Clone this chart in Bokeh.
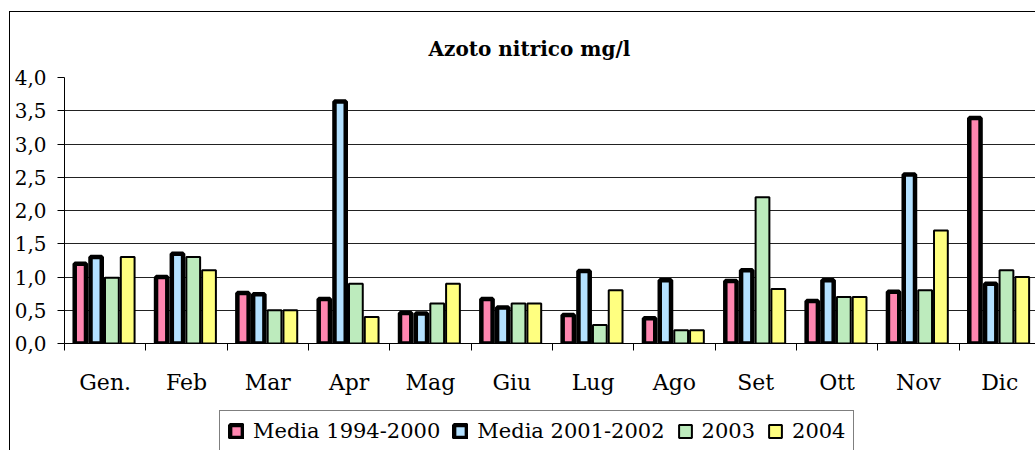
from bokeh.plotting import figure
from bokeh.layouts import column
from bokeh.models import (Range1d, FixedTicker, Legend, LegendItem, Title, ColumnDataSource)
from bokeh.embed import file_html
from bokeh.resources import INLINE

months = ["Gen.", "Feb", "Mar", "Apr", "Mag", "Giu", "Lug", "Ago", "Set", "Ott", "Nov", "Dic"]
series_names = ["Media 1994-2000", "Media 2001-2002", "2003", "2004"]
media_1994_2000 = [1.2, 1.0, 0.76, 0.67, 0.46, 0.67, 0.43, 0.38, 0.94, 0.64, 0.78, 3.39]
media_2001_2002 = [1.3, 1.35, 0.74, 3.64, 0.45, 0.54, 1.09, 0.95, 1.1, 0.95, 2.54, 0.9]
values_2003 = [0.99, 1.3, 0.5, 0.9, 0.6, 0.6, 0.28, 0.2, 2.2, 0.7, 0.8, 1.1]
values_2004 = [1.3, 1.1, 0.5, 0.4, 0.9, 0.6, 0.8, 0.2, 0.82, 0.7, 1.7, 1.0]
y_ticks = [0.0, 0.5, 1.0, 1.5, 2.0, 2.5, 3.0, 3.5, 4.0]

all_series = [media_1994_2000, media_2001_2002, values_2003, values_2004]
fills = ["#FF86B0", "#B4E1FF", "#BDEBBD", "#FFFF80"]
line_widths = [4.5, 4.5, 2, 2]
offsets = [0.195, 0.389, 0.583, 0.777]

FONT = "DejaVu Serif"

p = figure(width=1025, height=393, output_backend="svg", toolbar_location=None,
           x_range=Range1d(0, 11.94), y_range=Range1d(0, 4.0),
           min_border_left=54, min_border_right=0, min_border_top=65, min_border_bottom=62)
p.outline_line_color = None
p.background_fill_color = "white"
p.border_fill_color = "white"

p.title = Title(text="Azoto nitrico mg/l", align="left", offset=364, standoff=33,
                text_font=FONT, text_font_size="20px", text_font_style="bold", text_color="black")

renderers = []
for k, vals in enumerate(all_series):
    src = ColumnDataSource(dict(x=[i + offsets[k] for i in range(len(months))], top=vals))
    r = p.vbar(x="x", top="top", width=0.194 - line_widths[k] / 81.3, bottom=0, source=src,
               fill_color=fills[k], line_color="black", line_width=line_widths[k])
    renderers.append(r)

p.xaxis.ticker = FixedTicker(ticks=[i + 0.5 for i in range(12)], minor_ticks=list(range(13)))
p.xaxis.major_label_overrides = {i + 0.5: m for i, m in enumerate(months)}
p.xaxis.major_tick_out = 0
p.xaxis.major_tick_in = 0
p.xaxis.minor_tick_out = 7
p.xaxis.minor_tick_in = 0
p.xaxis.major_label_standoff = 19
p.xaxis.axis_line_color = "black"
p.xaxis.major_label_text_font_size = "22px"

p.yaxis.ticker = FixedTicker(ticks=y_ticks, minor_ticks=[])
p.yaxis.major_label_overrides = {t: f"{t:.1f}".replace(".", ",") for t in y_ticks}
p.yaxis.major_tick_out = 7
p.yaxis.major_tick_in = 0
p.yaxis.major_label_standoff = 11
p.yaxis.axis_line_color = "black"
p.yaxis.major_label_text_font_size = "20px"

for ax in (p.xaxis[0], p.yaxis[0]):
    ax.major_label_text_font = FONT
    ax.major_label_text_color = "black"
    ax.major_tick_line_color = "black"
    ax.minor_tick_line_color = "black"

p.xgrid.grid_line_color = None
p.ygrid.ticker = FixedTicker(ticks=y_ticks)
p.ygrid.grid_line_color = "#222222"
p.ygrid.grid_line_width = 1

# legend strip below the chart (its frame is aligned with the chart's frame)
q = figure(width=1025, height=45, output_backend="svg", toolbar_location=None,
           x_range=Range1d(0, 1), y_range=Range1d(0, 1), x_axis_type=None, y_axis_type=None,
           min_border=0)
q.outline_line_color = None
q.xgrid.grid_line_color = None
q.ygrid.grid_line_color = None
q.border_fill_color = "white"
q.background_fill_color = "white"
leg_renderers = []
for k in range(4):
    # legend swatches only: placed well outside the visible area
    src = ColumnDataSource(dict(x=[0.5], top=[-40.0]))
    leg_renderers.append(q.vbar(x="x", top="top", bottom=-50.0, width=0.01, source=src,
                                fill_color=fills[k], line_color="black", line_width=line_widths[k]))

legend = Legend(items=[LegendItem(label=n, renderers=[r]) for n, r in zip(series_names, leg_renderers)],
                orientation="horizontal", location=(155, -2),
                glyph_width=16, glyph_height=16, label_standoff=9, spacing=12, padding=8,
                label_text_font=FONT, label_text_font_size="21px", label_text_color="black",
                border_line_color="black", border_line_width=1, background_fill_alpha=1,
                margin=0)
q.add_layout(legend, "center")

layout = column(p, q, spacing=0)
layout.styles = {"border-left": "1px solid #000", "border-top": "1px solid #000",
                 "margin-left": "9px", "margin-top": "11px"}

open("out.html", "w").write(file_html(layout, INLINE))
